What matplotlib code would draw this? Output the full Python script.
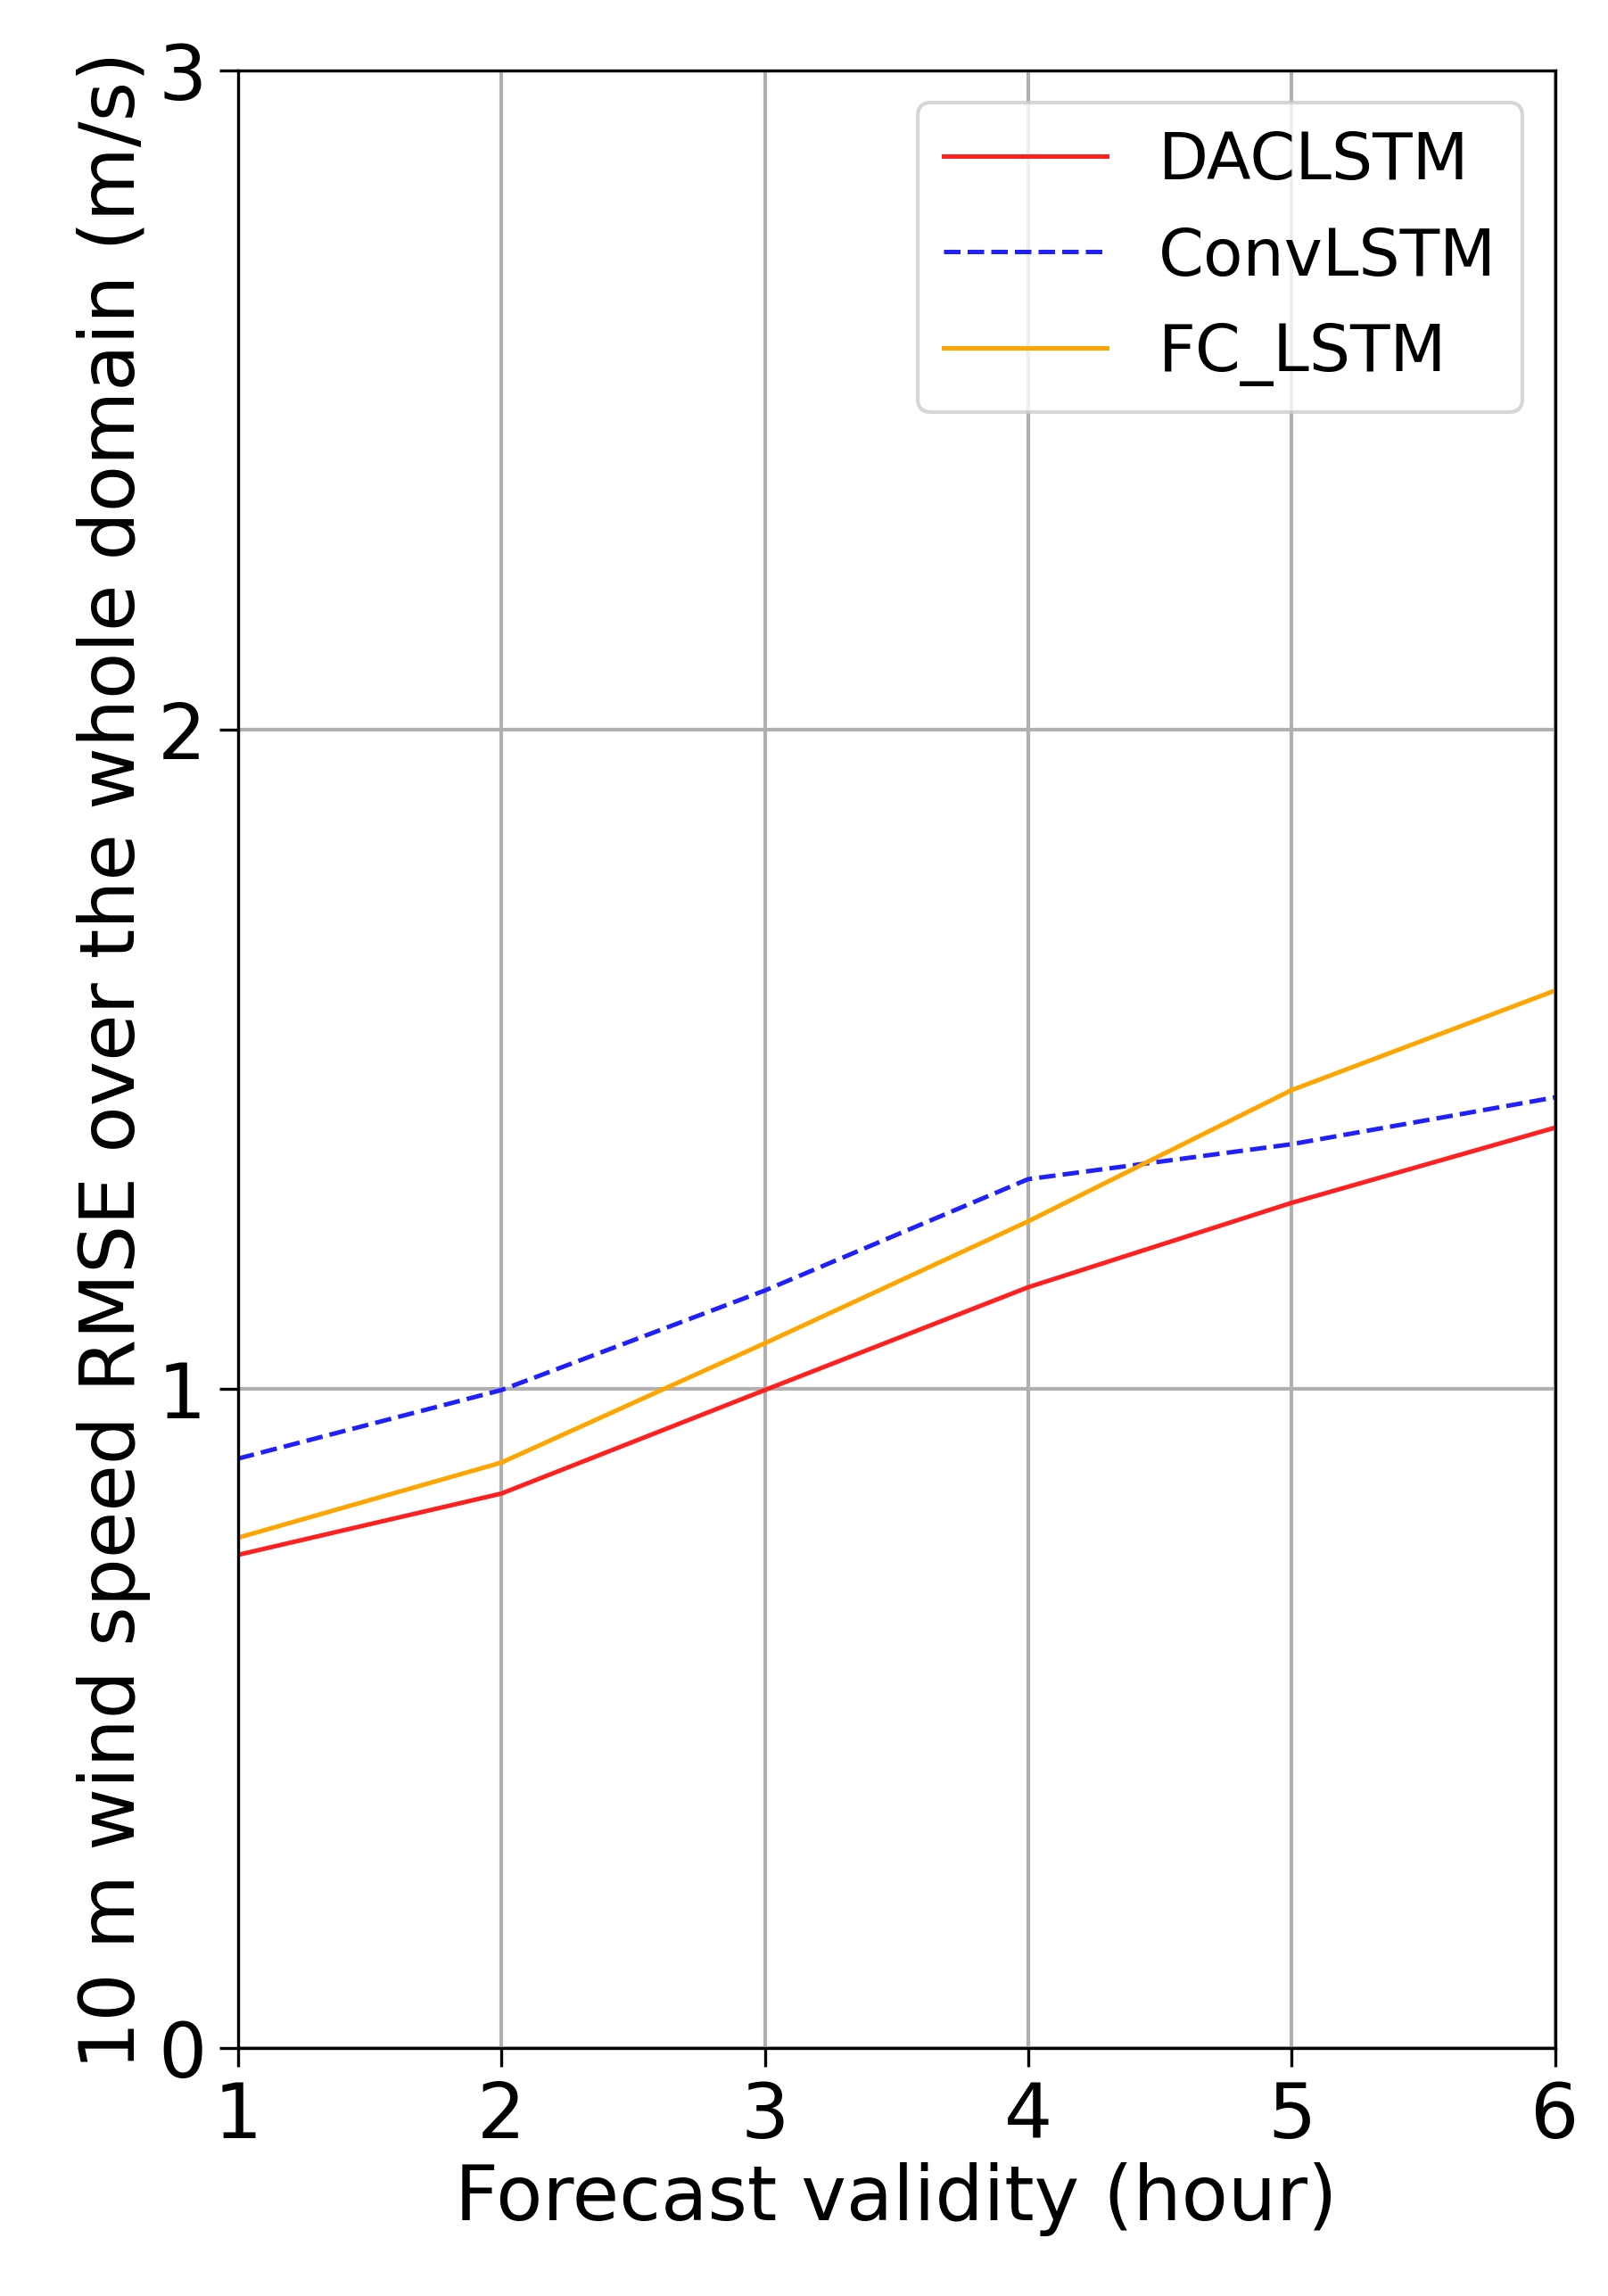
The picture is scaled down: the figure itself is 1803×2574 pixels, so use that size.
import numpy as np
import matplotlib
matplotlib.use("Agg")
import matplotlib.pyplot as plt

hours = [1, 2, 3, 4, 5, 6]
daclstm = [0.748, 0.841, 0.998, 1.154, 1.282, 1.396]
convlstm = [0.894, 0.998, 1.149, 1.318, 1.371, 1.442]
fc_lstm = [0.774, 0.888, 1.069, 1.254, 1.453, 1.604]

fig = plt.figure(figsize=(6.01, 8.583), dpi=300)
ax = fig.add_axes([0.148, 0.108, 0.819, 0.861])

ax.plot(hours, daclstm, color="#ff2020", lw=1.2, label="DACLSTM")
ax.plot(hours, convlstm, color="#2020ff", lw=1.2, ls="--", label="ConvLSTM")
ax.plot(hours, fc_lstm, color="orange", lw=1.2, label="FC_LSTM")

ax.set_xlim(1, 6)
ax.set_ylim(0, 3)
ax.set_xticks(hours)
ax.set_yticks([0, 1, 2, 3])
ax.grid(True, color="#b0b0b0", lw=1.0)
ax.tick_params(labelsize=20.5, length=5)
ax.set_xlabel("Forecast validity (hour)", fontsize=20.5, labelpad=2)
ax.set_ylabel("10 m wind speed RMSE over the whole domain (m/s)", fontsize=20.5, labelpad=2)
ax.legend(loc="upper right", fontsize=17.5, handlelength=2.5)

fig.savefig("out.png")
